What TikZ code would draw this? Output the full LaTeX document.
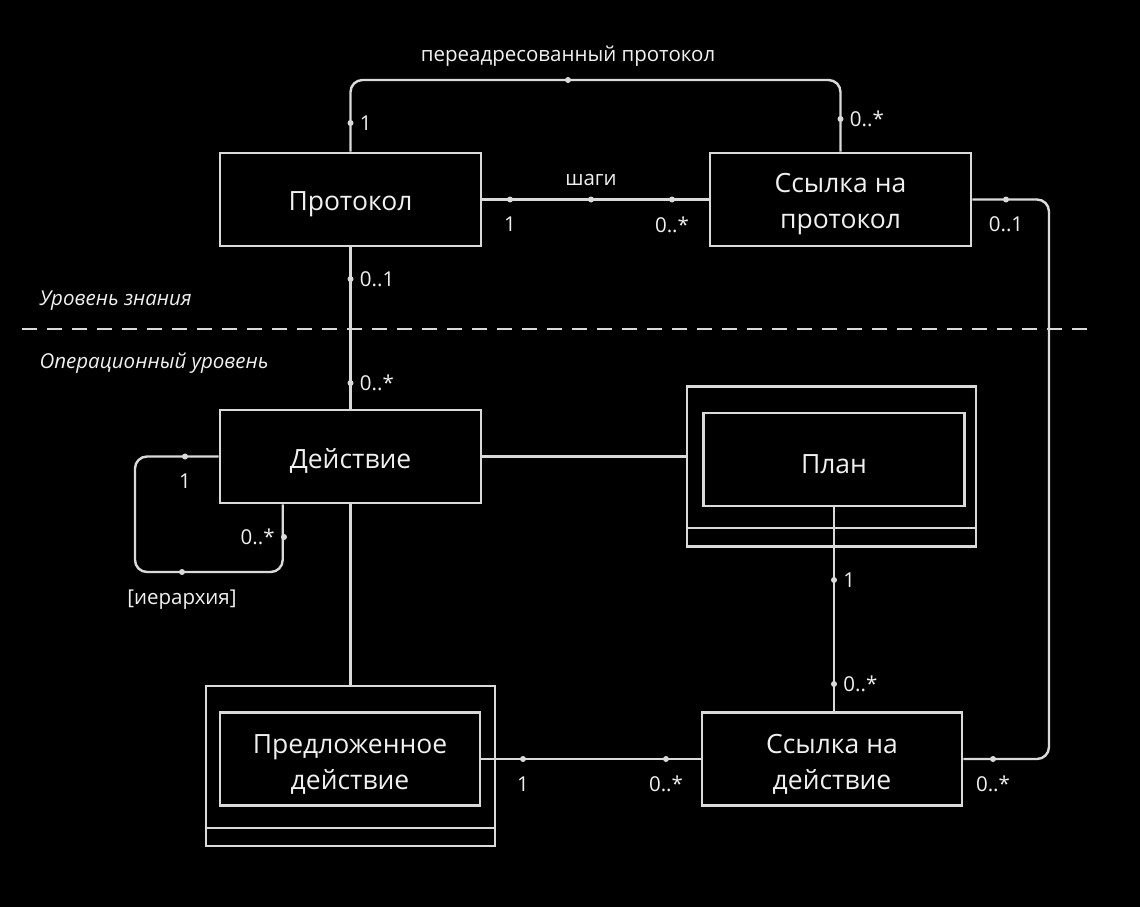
\documentclass[tikz,border=0pt]{standalone}
\usepackage{fontspec}
\setmainfont{Open Sans}
\usepackage{xcolor}
\usepackage{tikz}
\usetikzlibrary{positioning,calc}
\definecolor{linegray}{RGB}{218,218,218}
\definecolor{textgray}{RGB}{240,240,240}

\begin{document}
\begin{tikzpicture}[
    x=1pt, y=-1pt,
    entity/.style={rectangle, draw=linegray, line width=2.6pt, text=textgray, minimum width=261pt, minimum height=93pt, align=center, font=\fontsize{26.5}{36}\selectfont, execute at begin node={\rule{0pt}{29pt}}},
    frame/.style={rectangle, draw=linegray, line width=2.6pt, minimum width=289pt, minimum height=160pt},
    assoc/.style={draw=linegray, line width=2.4pt, rounded corners=12pt},
    dot/.style={circle, fill=linegray, inner sep=0pt, minimum size=6pt},
    mult/.style={text=textgray, font=\fontsize{20.5}{24}\selectfont, inner sep=2pt},
    level/.style={text=textgray, font=\itshape\fontsize{20.5}{24}\selectfont, anchor=west}
]
    % Background and page size
    \fill[black] (0,0) rectangle (1140,907);
    \useasboundingbox (0,0) rectangle (1140,907);

    % Knowledge level
    \node[entity] (proto) at (350.5,199.5) {Протокол};
    \node[entity] (refproto) at (840.5,199.5) {\rule{0pt}{29pt}Ссылка на\\протокол};

    % Level divider
    \coordinate (divleft) at (22,329);
    \coordinate (divright) at (1095,329);
    \draw[linegray, line width=2pt, dash pattern=on 15pt off 10pt] (divleft) -- (divright);
    \node[level] (knowledge) at (36,301) {Уровень знания};
    \node[level] (operational) at (36,363) {Операционный уровень};

    % Operational level
    \node[entity] (action) at (350.5,456.5) {Действие};

    \node[frame] (planframe) at (831.5,466.5) {};
    \node[entity] (plan) at (834,459.5) {План};
    \draw[linegray, line width=2.6pt] (planframe.west |- 0,528) -- (planframe.east |- 0,528);

    \node[frame] (propframe) at (350.5,766) {};
    \node[entity, minimum width=260pt] (proposed) at (350,759) {\rule{0pt}{29pt}Предложенное\\действие};
    \draw[linegray, line width=2.6pt] (propframe.west |- 0,828) -- (propframe.east |- 0,828);

    \node[entity, minimum width=260pt] (actref) at (832,759) {\rule{0pt}{29pt}Ссылка на\\действие};

    % Redirected protocol
    \coordinate (redir) at (568,80);
    \draw[assoc] (proto.north) |- (redir) -| (refproto.north);
    \node[dot] (rpmid) at (redir) {};
    \node[mult, above=8pt of rpmid] (rplabel) {переадресованный протокол};
    \node[dot] (rp1) at (350.5,123) {};
    \node[mult, right=4pt of rp1] (rp1m) {1};
    \node[dot] (rp2) at (840.5,119) {};
    \node[mult, right=4pt of rp2] (rp2m) {0..*};

    % Steps
    \draw[assoc] (proto.east) -- (refproto.west);
    \node[dot] (st1) at (510,199.5) {};
    \node[dot] (stmid) at (591,199.5) {};
    \node[dot] (st2) at (672,199.5) {};
    \node[mult, above=8pt of stmid] (stlabel) {шаги};
    \node[mult, below=12pt of st1] (st1m) {1};
    \node[mult, below=12pt of st2] (st2m) {0..*};

    % Protocol - action
    \draw[assoc] (proto.south) -- (action.north);
    \node[dot] (pa1) at (350.5,279) {};
    \node[mult, right=4pt of pa1] (pa1m) {0..1};
    \node[dot] (pa2) at (350.5,383) {};
    \node[mult, right=4pt of pa2] (pa2m) {0..*};

    % Hierarchy
    \coordinate (loopcorner) at (135,572);
    \draw[assoc] (action.west) -| (loopcorner) -| ([xshift=64pt]action.south west);
    \node[dot] (hi1) at (185,456.5) {};
    \node[mult, below=12pt of hi1] (hi1m) {1};
    \node[dot] (hi2) at (284,537) {};
    \node[mult, left=4pt of hi2] (hi2m) {0..*};
    \node[dot] (himid) at (182,572) {};
    \node[mult, below=12pt of himid] (hilabel) {[иерархия]};

    % Action - plan, action - proposed action
    \draw[assoc] (action.east) -- (action.east -| planframe.west);
    \draw[assoc] (action.south) -- (propframe.north);

    % Plan - action reference
    \draw[assoc] (plan.south) -- (plan.south |- actref.north);
    \node[dot] (pl1) at (834,580) {};
    \node[mult, right=4pt of pl1] (pl1m) {1};
    \node[dot] (pl2) at (834,684) {};
    \node[mult, right=4pt of pl2] (pl2m) {0..*};

    % Proposed action - action reference
    \draw[assoc] (proposed.east) -- (actref.west);
    \node[dot] (pr1) at (523,759) {};
    \node[mult, below=12pt of pr1] (pr1m) {1};
    \node[dot] (pr2) at (666,759) {};
    \node[mult, below=12pt of pr2] (pr2m) {0..*};

    % Protocol reference - action reference
    \coordinate (rightcol) at (1049,480);
    \draw[assoc] (refproto.east) -| (rightcol) |- (actref.east);
    \node[dot] (rr1) at (1006,199.5) {};
    \node[mult, below=12pt of rr1] (rr1m) {0..1};
    \node[dot] (rr2) at (993,759) {};
    \node[mult, below=12pt of rr2] (rr2m) {0..*};
\end{tikzpicture}
\end{document}
